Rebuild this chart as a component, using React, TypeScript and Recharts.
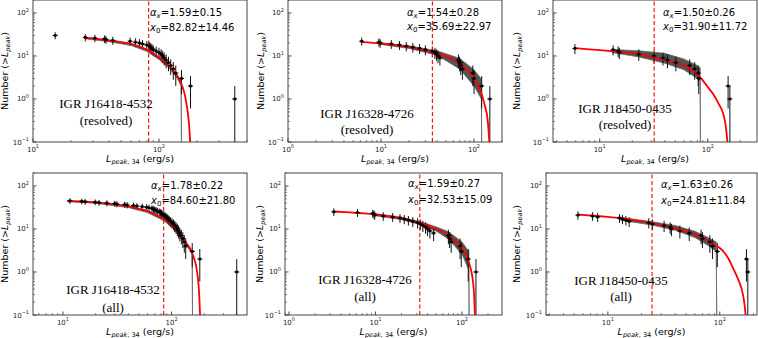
import React from 'react';
import { ComposedChart, XAxis, YAxis, Scatter, ErrorBar, Line, Area, ReferenceLine } from 'recharts';

const SANS = '"DejaVu Sans", sans-serif';
const SERIF = '"Liberation Serif", "Times New Roman", serif';

// fit results, panels in reading order (top: resolved, bottom: all)
const alphaVal = [1.59, 1.54, 1.5, 1.78, 1.59, 1.63];
const alphaErr = [0.15, 0.28, 0.26, 0.22, 0.27, 0.26];
const x0Val = [82.82, 35.69, 31.9, 84.6, 32.53, 24.81];
const x0Err = [14.46, 22.97, 11.72, 21.8, 15.09, 11.84];

const sourceNames = ['IGR J16418-4532', 'IGR J16328-4726', 'IGR J18450-0435'];
const subsetNames = ['(resolved)', '(all)'];

// --- panel 1: J16418 resolved
const p1Lum = [15, 26, 31, 37, 38, 43, 59, 65, 70, 74, 80, 84, 86, 88, 90, 95, 100, 104, 107, 110, 114, 119, 124, 130, 136, 151, 178, 400];
const p1Count = [30, 27, 26, 25, 24, 23, 22, 21, 20, 19, 18, 17, 16, 15, 14, 13, 12, 11, 10, 9, 8, 7, 6, 5, 4, 3, 2, 1];
const p1Err = [5.5, 5.2, 5.1, 5, 4.9, 4.8, 4.7, 4.6, 4.5, 4.4, 4.2, 4.1, 4, 3.9, 3.7, 3.6, 3.5, 3.3, 3.2, 3, 2.8, 2.6, 2.4, 2.2, 2, 1.7, 1.4, 1];
const p1FitL = [26, 30, 40, 50, 60, 70, 80, 90, 100, 110, 120, 130, 140, 150, 160, 165, 170, 174, 177];
const p1FitN = [26.5, 25.5, 23, 21, 19, 16.5, 14, 11.5, 9.3, 7.5, 6, 4.6, 3.4, 2.3, 1.3, 0.8, 0.45, 0.22, 0.1];
const p1BandL = [26, 40, 60, 80, 100, 120, 140, 150, 151];
const p1BandLo = [25, 21.5, 17.5, 12.8, 8.3, 5.3, 3.0, 2.0, 0.05];
const p1BandHi = [26.8, 23.3, 19.3, 14.2, 9.5, 6.2, 3.6, 2.6, 0.05];

// --- panel 2: J16328 resolved
const p2Lum = [6.2, 9.5, 9.8, 12.9, 15.8, 18.7, 22, 26, 30, 35.7, 38, 39.6, 41, 43, 68, 70, 72, 75, 97, 100, 121, 148];
const p2Count = [22, 21, 20, 19, 18, 17, 16, 15, 14, 13, 12, 11, 10, 9, 8, 7, 6, 5, 4, 3, 2, 1];
const p2Err = [4.7, 4.6, 4.5, 4.4, 4.2, 4.1, 4, 3.9, 3.7, 3.6, 3.5, 3.3, 3.2, 3, 2.8, 2.6, 2.4, 2.2, 2, 1.7, 1.4, 1];
const p2FitL = [6.2, 10, 15, 20, 30, 40, 50, 60, 70, 80, 90, 100, 110, 120, 126, 132, 139, 143, 146];
const p2FitN = [21, 19.5, 17.5, 16, 13.5, 11.5, 9.8, 8.2, 6.7, 5.4, 4.2, 3.0, 2.1, 1.35, 0.95, 0.65, 0.38, 0.2, 0.1];
const p2BandL = [9.5, 20, 40, 70, 100, 120, 121];
const p2BandLo = [18.8, 15, 10.4, 5.0, 2.0, 1.0, 0.05];
const p2BandHi = [20.2, 17.2, 13.2, 8.8, 4.8, 2.9, 0.05];

// --- panel 3: J18450 resolved
const p3Lum = [5.9, 13.3, 14.8, 15.2, 23, 31.8, 38.5, 42.3, 50.6, 68, 75.6, 81.4, 82.5, 154, 160];
const p3Count = [15, 14, 13, 12, 11, 10, 9, 8, 7, 6, 5, 4, 3, 2, 1];
const p3Err = [3.9, 3.7, 3.6, 3.5, 3.3, 3.2, 3, 2.8, 2.6, 2.4, 2.2, 2, 1.7, 1.4, 1];
const p3FitL = [5.9, 8, 10, 15, 20, 30, 40, 50, 60, 70, 83, 100, 112, 125, 138, 146, 152];
const p3FitN = [15.2, 14.3, 13.7, 12.5, 11.5, 9.4, 8.1, 7.0, 6.0, 4.9, 3.4, 1.9, 1.3, 0.8, 0.47, 0.25, 0.1];
const p3BandL = [13, 23, 40, 60, 80, 85, 85.5];
const p3BandLo = [12, 9.5, 6.8, 4.8, 3.0, 2.6, 0.05];
const p3BandHi = [14.2, 13.2, 11.5, 8.5, 6.0, 5.3, 0.05];

// --- panel 4: J16418 all
const p4Lum = [11.6, 14.9, 16, 19.8, 21.5, 25.4, 30, 31.4, 37, 39, 44.6, 48, 53.7, 59, 62, 66, 68, 70, 72, 74, 77, 79, 81, 83, 85, 87, 89, 91, 93, 95, 98, 101, 104, 107, 110, 113, 116, 119, 123, 127, 131, 135, 155, 182, 398];
const p4Count = [45, 44, 43, 42, 41, 40, 39, 38, 37, 36, 35, 34, 33, 32, 31, 30, 29, 28, 27, 26, 25, 24, 23, 22, 21, 20, 19, 18, 17, 16, 15, 14, 13, 12, 11, 10, 9, 8, 7, 6, 5, 4, 3, 2, 1];
const p4Err = [6.7, 6.6, 6.6, 6.5, 6.4, 6.3, 6.2, 6.2, 6.1, 6, 5.9, 5.8, 5.7, 5.7, 5.6, 5.5, 5.4, 5.3, 5.2, 5.1, 5, 4.9, 4.8, 4.7, 4.6, 4.5, 4.4, 4.2, 4.1, 4, 3.9, 3.7, 3.6, 3.5, 3.3, 3.2, 3, 2.8, 2.6, 2.4, 2.2, 2, 1.7, 1.4, 1];
const p4FitL = [11, 15, 20, 30, 40, 50, 60, 70, 85, 100, 115, 130, 145, 155, 165, 170, 175, 179, 183];
const p4FitN = [45, 43.5, 41.5, 37.5, 33.5, 29.5, 26, 22, 17, 12.5, 8.5, 5.6, 3.7, 2.7, 1.7, 1.2, 0.7, 0.35, 0.1];
const p4BandL = [11, 20, 40, 60, 85, 100, 130, 150, 155, 156];
const p4BandLo = [43, 39.5, 31.5, 24, 15.5, 11.3, 5.0, 3.0, 2.6, 0.05];
const p4BandHi = [45.5, 42, 34, 26.5, 17.5, 12.8, 5.8, 3.6, 3.1, 0.05];

// --- panel 5: J16328 all
const p5Lum = [3.3, 6.2, 9.3, 9.6, 9.8, 12.3, 15.8, 19.2, 21.5, 24, 27, 30.7, 33, 35.3, 38, 40, 42.6, 47, 69.6, 72, 75, 95, 98, 118, 145];
const p5Count = [25, 24, 23, 22, 21, 20, 19, 18, 17, 16, 15, 14, 13, 12, 11, 10, 9, 8, 7, 6, 5, 4, 3, 2, 1];
const p5Err = [5, 4.9, 4.8, 4.7, 4.6, 4.5, 4.4, 4.2, 4.1, 4, 3.9, 3.7, 3.6, 3.5, 3.3, 3.2, 3, 2.8, 2.6, 2.4, 2.2, 2, 1.7, 1.4, 1];
const p5FitL = [3.3, 5, 7, 10, 15, 20, 32.5, 40, 50, 60, 70, 80, 90, 100, 110, 120, 128, 134, 138, 141];
const p5FitN = [25.5, 24.3, 23.2, 21.8, 19.5, 17.5, 13.8, 12, 10, 8.5, 7, 5.7, 4.6, 3.6, 2.6, 1.7, 1.05, 0.6, 0.3, 0.1];
const p5BandL = [9.5, 20, 32, 50, 70, 100, 120, 121];
const p5BandLo = [20.5, 16.5, 12.8, 9.0, 5.8, 2.6, 1.1, 0.05];
const p5BandHi = [22.8, 18.8, 15, 11.2, 8.6, 5.0, 3.0, 0.05];

// --- panel 6: J18450 all
const p6Lum = [5.4, 7.3, 8.1, 12.7, 13.5, 14.5, 15.5, 23.2, 25, 31.8, 36, 37, 44, 53.3, 68, 70, 81.5, 86, 95, 173, 178];
const p6Count = [21, 20, 19, 18, 17, 16, 15, 14, 13, 12, 11, 10, 9, 8, 7, 6, 5, 4, 3, 2, 1];
const p6Err = [4.6, 4.5, 4.4, 4.2, 4.1, 4, 3.9, 3.7, 3.6, 3.5, 3.3, 3.2, 3, 2.8, 2.6, 2.4, 2.2, 2, 1.7, 1.4, 1];
const p6FitL = [5.5, 8, 10, 15, 20, 24.8, 30, 40, 50, 60, 70, 80, 90, 100, 110, 120, 132, 145, 156, 163, 167, 170];
const p6FitN = [21.5, 20, 19, 17, 15.2, 13.5, 12.3, 10.3, 8.7, 7.3, 6.2, 5.2, 4.3, 3.6, 2.8, 2.0, 1.2, 0.7, 0.42, 0.25, 0.16, 0.1];
const p6BandL = [13, 24.8, 40, 60, 80, 93, 94];
const p6BandLo = [16, 12.3, 9.3, 6.3, 4.0, 3.0, 0.05];
const p6BandHi = [18.5, 14.8, 12, 8.8, 6.2, 5.0, 0.05];

// axis ranges / major tick labels
const yDomain = [0.1, 200];
const xMajorA = [10, 100];
const xMajorB = [1, 10, 100];

const pts = (lum: number[], cnt: number[], err: number[]) =>
  lum.map((L, i) => ({ L, N: cnt[i], err: [Math.min(err[i], cnt[i] - 0.1), err[i]] }));
const curve = (lum: number[], n: number[]) => lum.map((L, i) => ({ L, N: n[i] }));
const band = (lum: number[], lo: number[], hi: number[]) => lum.map((L, i) => ({ L, range: [lo[i], hi[i]] }));

const panels = [
  { pts: pts(p1Lum, p1Count, p1Err), fit: curve(p1FitL, p1FitN), band: band(p1BandL, p1BandLo, p1BandHi) },
  { pts: pts(p2Lum, p2Count, p2Err), fit: curve(p2FitL, p2FitN), band: band(p2BandL, p2BandLo, p2BandHi) },
  { pts: pts(p3Lum, p3Count, p3Err), fit: curve(p3FitL, p3FitN), band: band(p3BandL, p3BandLo, p3BandHi) },
  { pts: pts(p4Lum, p4Count, p4Err), fit: curve(p4FitL, p4FitN), band: band(p4BandL, p4BandLo, p4BandHi) },
  { pts: pts(p5Lum, p5Count, p5Err), fit: curve(p5FitL, p5FitN), band: band(p5BandL, p5BandLo, p5BandHi) },
  { pts: pts(p6Lum, p6Count, p6Err), fit: curve(p6FitL, p6FitN), band: band(p6BandL, p6BandLo, p6BandHi) },
];

// plot boxes in page pixels
const layout = [
  { l: 33, t: 0, w: 214, h: 142, dom: [10, 500], major: xMajorA, nameX: 106, nameY: [108, 125], statX: 150, statY: [16, 30.5], yLabX: 8 },
  { l: 288, t: 0, w: 214, h: 142, dom: [1, 200], major: xMajorB, nameX: 367, nameY: [118, 134], statX: 407, statY: [16, 30], yLabX: 264 },
  { l: 553, t: 0, w: 204, h: 142, dom: [3.7, 285], major: xMajorA, nameX: 625, nameY: [113, 129], statX: 663, statY: [16, 30], yLabX: 520 },
  { l: 33, t: 173, w: 214, h: 142, dom: [5.3, 495], major: xMajorA, nameX: 113, nameY: [294, 312], statX: 151, statY: [189, 204], yLabX: 8 },
  { l: 285, t: 173, w: 217, h: 142, dom: [0.9, 290], major: xMajorB, nameX: 365, nameY: [284, 301], statX: 408, statY: [187, 203], yLabX: 263 },
  { l: 546, t: 173, w: 211, h: 142, dom: [2.8, 215], major: xMajorA, nameX: 621, nameY: [285, 301], statX: 661, statY: [188, 204], yLabX: 520 },
];

function logTicks(lo: number, hi: number) {
  const out: number[] = [];
  for (let e = Math.floor(Math.log10(lo)); e <= Math.ceil(Math.log10(hi)); e++) {
    for (let k = 1; k < 10; k++) {
      const v = +(k * Math.pow(10, e)).toPrecision(3);
      if (v >= lo && v <= hi) out.push(v);
    }
  }
  return out;
}

const isMajor = (v: number) => {
  const e = Math.log10(v);
  return Math.abs(e - Math.round(e)) < 1e-6;
};
const expLabel = (v: number) => {
  const e = Math.round(Math.log10(v));
  return e < 0 ? `\u2212${-e}` : `${e}`;
};

// ticks point into the plot, matplotlib "in" style
const XTick = (props: any) => {
  const { x, y, payload } = props;
  const v = payload.value;
  const major = isMajor(v);
  return (
    <g>
      <line x1={x} x2={x} y1={y} y2={y - (major ? 3.5 : 2)} stroke="#333" strokeWidth={major ? 0.9 : 0.6} />
      {major && (
        <text x={x} y={y + 9.5} textAnchor="middle" fontSize={7} fontFamily={SANS} fill="#222">
          10<tspan dy={-3.5} fontSize={5}>{expLabel(v)}</tspan>
        </text>
      )}
    </g>
  );
};

const YTick = (props: any) => {
  const { x, y, payload } = props;
  const v = payload.value;
  const major = isMajor(v);
  return (
    <g>
      <line x1={x} x2={x + (major ? 3.5 : 2)} y1={y} y2={y} stroke="#333" strokeWidth={major ? 0.9 : 0.6} />
      {major && (
        <text x={x - 4} y={y + 2.5} textAnchor="end" fontSize={7} fontFamily={SANS} fill="#222">
          10<tspan dy={-3.5} fontSize={5}>{expLabel(v)}</tspan>
        </text>
      )}
    </g>
  );
};

const Dot = (props: any) => {
  const { cx, cy } = props;
  if (cx == null || cy == null) return <g />;
  return (
    <g>
      <line x1={cx - 2.5} x2={cx + 2.5} y1={cy} y2={cy} stroke="#000" strokeWidth={1} />
      <rect x={cx - 1.3} y={cy - 1.3} width={2.6} height={2.6} fill="#000" />
    </g>
  );
};

function Panel({ i }: { i: number }) {
  const p = panels[i];
  const lay = layout[i];
  return (
    <div style={{ position: 'absolute', left: lay.l - 40, top: lay.t - 2 }}>
      <ComposedChart width={lay.w + 42} height={lay.h + 32} margin={{ top: 2, right: 2, bottom: 0, left: 0 }}>
        <XAxis
          type="number"
          dataKey="L"
          scale="log"
          domain={lay.dom}
          allowDataOverflow
          ticks={logTicks(lay.dom[0], lay.dom[1])}
          interval={0}
          tick={XTick}
          tickSize={0}
          tickMargin={0}
          axisLine={false}
          tickLine={false}
          height={30}
        />
        <YAxis
          type="number"
          dataKey="N"
          scale="log"
          domain={yDomain}
          allowDataOverflow
          ticks={logTicks(yDomain[0], 100).concat([200])}
          interval={0}
          tick={YTick}
          tickSize={0}
          tickMargin={0}
          axisLine={false}
          tickLine={false}
          width={40}
        />
        <Area
          data={p.band}
          dataKey="range"
          type="linear"
          stroke="#6a6a6a"
          strokeWidth={0.8}
          fill="#4a4a4a"
          fillOpacity={0.95}
          isAnimationActive={false}
        />
        <Scatter data={p.pts} dataKey="N" shape={Dot} isAnimationActive={false}>
          <ErrorBar dataKey="err" direction="y" width={0} stroke="#111" strokeWidth={1} />
        </Scatter>
        <Line
          data={p.fit}
          dataKey="N"
          type="monotone"
          stroke="#ff0000"
          strokeWidth={1.8}
          dot={false}
          isAnimationActive={false}
        />
        <ReferenceLine x={x0Val[i]} stroke="#ff0000" strokeWidth={1.1} strokeDasharray="4 2.5" />
      </ComposedChart>
    </div>
  );
}

function Overlay() {
  return (
    <svg width={758} height={338} style={{ position: 'absolute', left: 0, top: 0, pointerEvents: 'none' }}>
      {layout.map((lay, i) => {
        const row = i < 3 ? 0 : 1;
        const cy = lay.t + lay.h / 2;
        return (
          <g key={i}>
            <rect x={lay.l} y={lay.t} width={lay.w} height={lay.h} fill="none" stroke="#444" strokeWidth={1} />
            <text x={lay.statX} y={lay.statY[0]} fontSize={10} fontFamily={SANS} fill="#000">
              <tspan fontStyle="italic">α</tspan>
              <tspan fontStyle="italic" fontSize={7} dy={2}>x</tspan>
              <tspan dy={-2}>{`=${alphaVal[i].toFixed(2)}±${alphaErr[i].toFixed(2)}`}</tspan>
            </text>
            <text x={lay.statX} y={lay.statY[1]} fontSize={10} fontFamily={SANS} fill="#000">
              <tspan fontStyle="italic">x</tspan>
              <tspan fontSize={7} dy={2}>0</tspan>
              <tspan dy={-2}>{`=${x0Val[i].toFixed(2)}±${x0Err[i].toFixed(2)}`}</tspan>
            </text>
            <text x={lay.nameX} y={lay.nameY[0]} textAnchor="middle" fontSize={13} fontFamily={SERIF} fill="#000">
              {sourceNames[i % 3]}
            </text>
            <text x={lay.nameX} y={lay.nameY[1]} textAnchor="middle" fontSize={13} fontFamily={SERIF} fill="#000">
              {subsetNames[row]}
            </text>
            <text
              x={lay.l + lay.w / 2}
              y={lay.t + lay.h + (row === 0 ? 20 : 19.5)}
              textAnchor="middle"
              fontSize={9.5}
              fontFamily={SANS}
              fill="#000"
            >
              <tspan fontStyle="italic">L</tspan>
              <tspan fontSize={6.5} dy={2}>
                <tspan fontStyle="italic">peak</tspan>, 34
              </tspan>
              <tspan dy={-2}> (erg/s)</tspan>
            </text>
            <text
              x={lay.yLabX}
              y={cy}
              transform={`rotate(-90 ${lay.yLabX} ${cy})`}
              textAnchor="middle"
              fontSize={9.5}
              fontFamily={SANS}
              fill="#000"
            >
              Number (&gt;<tspan fontStyle="italic">L</tspan>
              <tspan fontStyle="italic" fontSize={6.5} dy={2}>peak</tspan>
              <tspan dy={-2}>)</tspan>
            </text>
          </g>
        );
      })}
    </svg>
  );
}

export default function App() {
  return (
    <div style={{ position: 'absolute', left: 0, top: 0, width: 758, height: 338, overflow: 'hidden', background: '#fff' }}>
      {panels.map((_, i) => (
        <Panel key={i} i={i} />
      ))}
      <Overlay />
    </div>
  );
}
